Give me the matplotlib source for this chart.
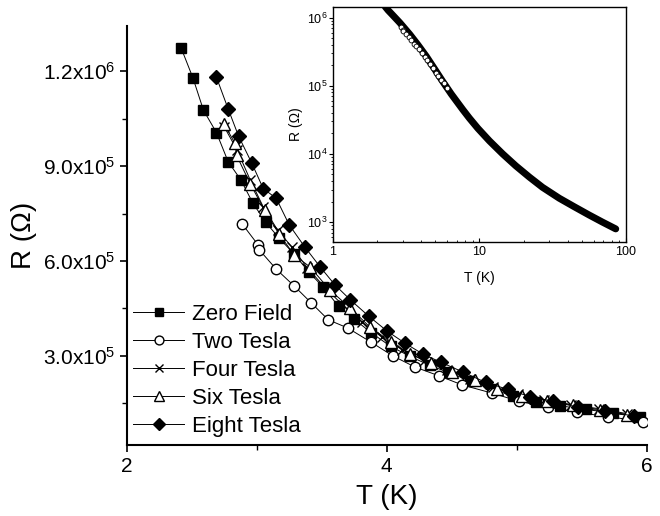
import matplotlib
matplotlib.use('Agg')
import matplotlib.pyplot as plt
from matplotlib.ticker import FixedLocator, FuncFormatter, LogLocator, NullFormatter

# R(T) under different magnetic fields, 2-6 K
t_zero = [2.42, 2.51, 2.59, 2.69, 2.78, 2.88, 2.97, 3.07, 3.17, 3.29, 3.40, 3.51, 3.63,
          3.75, 3.88, 4.03, 4.18, 4.33, 4.47, 4.64, 4.81, 4.97, 5.15, 5.33, 5.53, 5.74, 5.95]
r_zero = [1.272e6, 1.178e6, 1.077e6, 1.006e6, 9.14e5, 8.55e5, 7.83e5, 7.22e5, 6.73e5, 6.21e5,
          5.65e5, 5.18e5, 4.56e5, 4.16e5, 3.73e5, 3.30e5, 2.98e5, 2.70e5, 2.48e5, 2.21e5,
          1.96e5, 1.72e5, 1.55e5, 1.42e5, 1.31e5, 1.18e5, 1.07e5]

t_two = [2.89, 3.01, 3.02, 3.15, 3.29, 3.42, 3.55, 3.70, 3.88, 4.05, 4.22, 4.40, 4.58,
         4.81, 5.02, 5.24, 5.46, 5.70, 5.97]
r_two = [7.16e5, 6.51e5, 6.35e5, 5.74e5, 5.20e5, 4.67e5, 4.14e5, 3.88e5, 3.43e5, 2.99e5,
         2.64e5, 2.37e5, 2.08e5, 1.82e5, 1.56e5, 1.38e5, 1.21e5, 1.08e5, 0.92e5]

t_four = [2.75, 2.85, 2.95, 3.05, 3.16, 3.27, 3.39, 3.52, 3.66, 3.81, 3.96, 4.12, 4.29,
          4.46, 4.64, 4.82, 5.01, 5.21, 5.42, 5.63, 5.85]
r_four = [1.024e6, 9.50e5, 8.56e5, 7.71e5, 6.98e5, 6.44e5, 5.78e5, 5.18e5, 4.61e5, 4.07e5,
          3.60e5, 3.19e5, 2.84e5, 2.56e5, 2.27e5, 2.02e5, 1.80e5, 1.61e5, 1.45e5, 1.33e5, 1.17e5]

t_six = [2.75, 2.83, 2.845, 2.95, 3.06, 3.17, 3.29, 3.41, 3.56, 3.72, 3.87, 4.03, 4.18,
         4.34, 4.50, 4.68, 4.85, 5.04, 5.23, 5.43, 5.64, 5.85]
r_six = [1.032e6, 9.74e5, 9.34e5, 8.44e5, 7.60e5, 6.86e5, 6.18e5, 5.81e5, 5.09e5, 4.51e5,
         3.91e5, 3.45e5, 3.06e5, 2.78e5, 2.49e5, 2.24e5, 1.96e5, 1.74e5, 1.58e5, 1.45e5,
         1.29e5, 1.14e5]

t_eight = [2.69, 2.78, 2.86, 2.96, 3.05, 3.15, 3.25, 3.37, 3.49, 3.60, 3.72, 3.86, 4.00,
           4.14, 4.28, 4.42, 4.59, 4.76, 4.93, 5.10, 5.28, 5.47, 5.68, 5.90]
r_eight = [1.181e6, 1.081e6, 9.95e5, 9.11e5, 8.29e5, 7.98e5, 7.14e5, 6.44e5, 5.80e5, 5.25e5,
           4.77e5, 4.26e5, 3.79e5, 3.40e5, 3.05e5, 2.79e5, 2.48e5, 2.16e5, 1.94e5, 1.71e5,
           1.56e5, 1.37e5, 1.24e5, 1.10e5]

# zero field over the full range 1-100 K (inset)
t_wide = [2.27, 2.38, 2.51, 2.86, 3.34, 3.80, 4.34, 4.94, 5.62, 6.41, 7.69, 8.53, 9.75,
          11.7, 14.4, 17.7, 21.9, 26.9, 35.0, 44.3, 56.0, 69.0, 85.1]
r_wide = [1.45e6, 1.28e6, 1.135e6, 8.41e5, 5.69e5, 3.98e5, 2.69e5, 1.76e5, 1.15e5, 7.59e4,
          4.47e4, 3.35e4, 2.37e4, 1.55e4, 1.0e4, 6.68e3, 4.57e3, 3.24e3, 2.24e3, 1.68e3,
          1.27e3, 1.0e3, 7.94e2]

y_ticks = [3e5, 6e5, 9e5, 1.2e6]
y_minor = [1.5e5, 4.5e5, 7.5e5, 1.05e6]

plt.rcParams['font.family'] = ['Liberation Sans', 'DejaVu Sans']
plt.rcParams['mathtext.fontset'] = 'custom'
plt.rcParams['mathtext.rm'] = 'Liberation Sans'

fig = plt.figure(figsize=(6.6, 5.16), dpi=100)
ax = fig.add_axes([0.192, 0.1376, 0.788, 0.812])

series = [
    (t_zero, r_zero, 's', 'black', 'Zero Field', 7.5),
    (t_two, r_two, 'o', 'white', 'Two Tesla', 7.5),
    (t_four, r_four, 'x', 'black', 'Four Tesla', 7.5),
    (t_six, r_six, '^', 'white', 'Six Tesla', 8),
    (t_eight, r_eight, 'D', 'black', 'Eight Tesla', 7),
]
for t, r, m, fc, name, ms in series:
    ax.plot(t, r, color='black', lw=0.7, marker=m, ms=ms, mfc=fc, mec='black',
            mew=1.0, label=name)

ax.set_xlim(2, 6)
ax.set_ylim(1.8e4, 1.343e6)
ax.set_xticks([2, 4, 6])
ax.xaxis.set_minor_locator(FixedLocator([3, 5]))
ax.yaxis.set_major_locator(FixedLocator(y_ticks))
ax.yaxis.set_minor_locator(FixedLocator(y_minor))

def sci_label(v, pos):
    exp = len(str(int(v))) - 1
    return r'$\mathregular{%.1fx10^{%d}}$' % (v / 10 ** exp, exp)

ax.yaxis.set_major_formatter(FuncFormatter(sci_label))
ax.spines['top'].set_visible(False)
ax.spines['right'].set_visible(False)
ax.spines['left'].set_linewidth(1.5)
ax.spines['bottom'].set_linewidth(1.5)
ax.tick_params(which='major', direction='out', length=5, width=1.2, labelsize=15)
ax.tick_params(which='minor', direction='out', length=3.5, width=1.0)
ax.set_xlabel('T (K)', fontsize=20, labelpad=6)
ax.set_ylabel('R (Ω)', fontsize=20, labelpad=4)

leg = ax.legend(loc='lower left', bbox_to_anchor=(0.0, 0.003), borderaxespad=0,
                frameon=False, fontsize=16, handlelength=2.3, handletextpad=0.36,
                labelspacing=0.32, borderpad=0.3, markerscale=0.85)

# inset: full temperature range on log-log axes
ins = fig.add_axes([0.5045, 0.531, 0.444, 0.455])
ins.plot(t_wide, r_wide, color='black', lw=5, solid_capstyle='round')
ins.plot(t_two, r_two, ls='none', marker='o', ms=3.5, mfc='white', mec='black', mew=0.6)
ins.set_xscale('log')
ins.set_yscale('log')
ins.set_xlim(1, 100)
ins.set_ylim(5.1e2, 1.42e6)
ins.yaxis.set_major_locator(LogLocator(base=10, numticks=10))
ins.yaxis.set_minor_locator(LogLocator(base=10, subs=range(2, 10), numticks=10))
ins.yaxis.set_minor_formatter(NullFormatter())
ins.xaxis.set_minor_formatter(NullFormatter())
ins.set_xticks([1, 10, 100])
ins.set_xticklabels(['1', '10', '100'])
ins.tick_params(axis='x', which='both', direction='in', labelsize=9, pad=3)
ins.tick_params(axis='y', which='both', direction='out', labelsize=9, pad=1)
ins.tick_params(which='major', length=3)
ins.tick_params(which='minor', length=1.5)
for s in ins.spines.values():
    s.set_linewidth(1.0)
ins.set_xlabel('T (K)', fontsize=10, labelpad=9)
ins.set_ylabel('R (Ω)', fontsize=10, labelpad=3)

fig.savefig('out.png', dpi=100)
